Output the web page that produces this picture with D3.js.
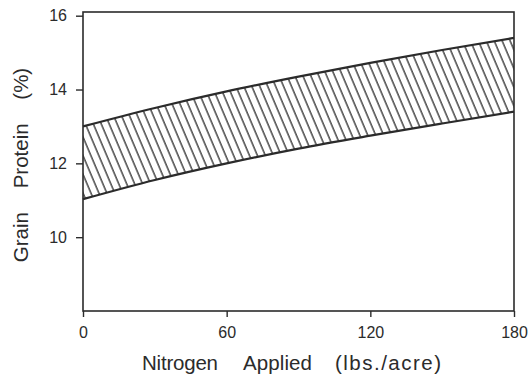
<!DOCTYPE html>
<html><head><meta charset="utf-8">
<script src="https://cdn.jsdelivr.net/npm/d3@7"></script>
<style>
body{margin:0;background:#fff;}
svg{display:block;font-family:"Liberation Sans",Arial,Helvetica,sans-serif;}
</style></head>
<body><svg id="c" width="531" height="377"></svg>
<script>
const nitrogen = [0, 30, 60, 90, 120, 150, 180];
const upperProtein = [13.0, 13.5, 13.95, 14.35, 14.72, 15.07, 15.4];
const lowerProtein = [11.03, 11.55, 12.0, 12.4, 12.75, 13.08, 13.4];
const xTicks = [0, 60, 120, 180];
const yTicks = [10, 12, 14, 16];
const xTitleWords = ["Nitrogen", "Applied", "(lbs./acre)"];
const yTitle = "Grain Protein (%)";

const svg = d3.select("#c");
const L = 83, R = 514, T = 12, B = 311;
const x = d3.scaleLinear().domain([0, 180]).range([L, R]);
const y = d3.scaleLinear().domain([8, 16.1]).range([B, T]);
const ink = "#2b2b2b";

const defs = svg.append("defs");
const pat = defs.append("pattern").attr("id", "hatch").attr("patternUnits", "userSpaceOnUse")
  .attr("width", 7.3).attr("height", 10).attr("patternTransform", "rotate(-23)");
pat.append("line").attr("x1", 1).attr("y1", 0).attr("x2", 1).attr("y2", 10)
  .attr("stroke", ink).attr("stroke-width", 1.3);

const data = nitrogen.map((n, i) => ({n, u: upperProtein[i], l: lowerProtein[i]}));
const area = d3.area().x(d => x(d.n)).y0(d => y(d.l)).y1(d => y(d.u)).curve(d3.curveMonotoneX);
svg.append("path").datum(data).attr("d", area).attr("fill", "url(#hatch)");
const lineU = d3.line().x(d => x(d.n)).y(d => y(d.u)).curve(d3.curveMonotoneX);
const lineL = d3.line().x(d => x(d.n)).y(d => y(d.l)).curve(d3.curveMonotoneX);
svg.append("path").datum(data).attr("d", lineU).attr("fill", "none").attr("stroke", ink).attr("stroke-width", 2.2);
svg.append("path").datum(data).attr("d", lineL).attr("fill", "none").attr("stroke", ink).attr("stroke-width", 2.2);

// frame
svg.append("rect").attr("x", L).attr("y", T).attr("width", R - L).attr("height", B - T)
  .attr("fill", "none").attr("stroke", ink).attr("stroke-width", 1.6);

// y axis
const ya = svg.append("g").attr("transform", `translate(${L},0)`)
  .call(d3.axisLeft(y).tickValues(yTicks).tickSize(7).tickPadding(9).tickFormat(d3.format("d")));
ya.select(".domain").remove();
ya.selectAll("line").attr("stroke", ink).attr("stroke-width", 1.4);
ya.selectAll("text").attr("font-size", 16).attr("fill", ink).attr("font-family", null);

// x axis
const xa = svg.append("g").attr("transform", `translate(0,${B})`)
  .call(d3.axisBottom(x).tickValues(xTicks).tickSize(6).tickPadding(10).tickFormat(d3.format("d")));
xa.select(".domain").remove();
xa.selectAll("line").attr("stroke", ink).attr("stroke-width", 1.4);
xa.selectAll("text").attr("font-size", 16).attr("fill", ink).attr("font-family", null);

const wordX = [142, 243, 335];
const wordW = [76, 69, 106];
const xt = svg.append("text").attr("y", 370).attr("font-size", 20.5).attr("fill", ink);
xTitleWords.forEach((w, i) => {
  xt.append("tspan").attr("x", wordX[i]).attr("textLength", wordW[i])
    .attr("lengthAdjust", "spacing").text(w);
});
svg.append("text").attr("transform", "translate(28,165) rotate(-90)").attr("text-anchor", "middle")
  .attr("font-size", 20.5).attr("word-spacing", 18).attr("fill", ink).text(yTitle);
</script></body></html>
